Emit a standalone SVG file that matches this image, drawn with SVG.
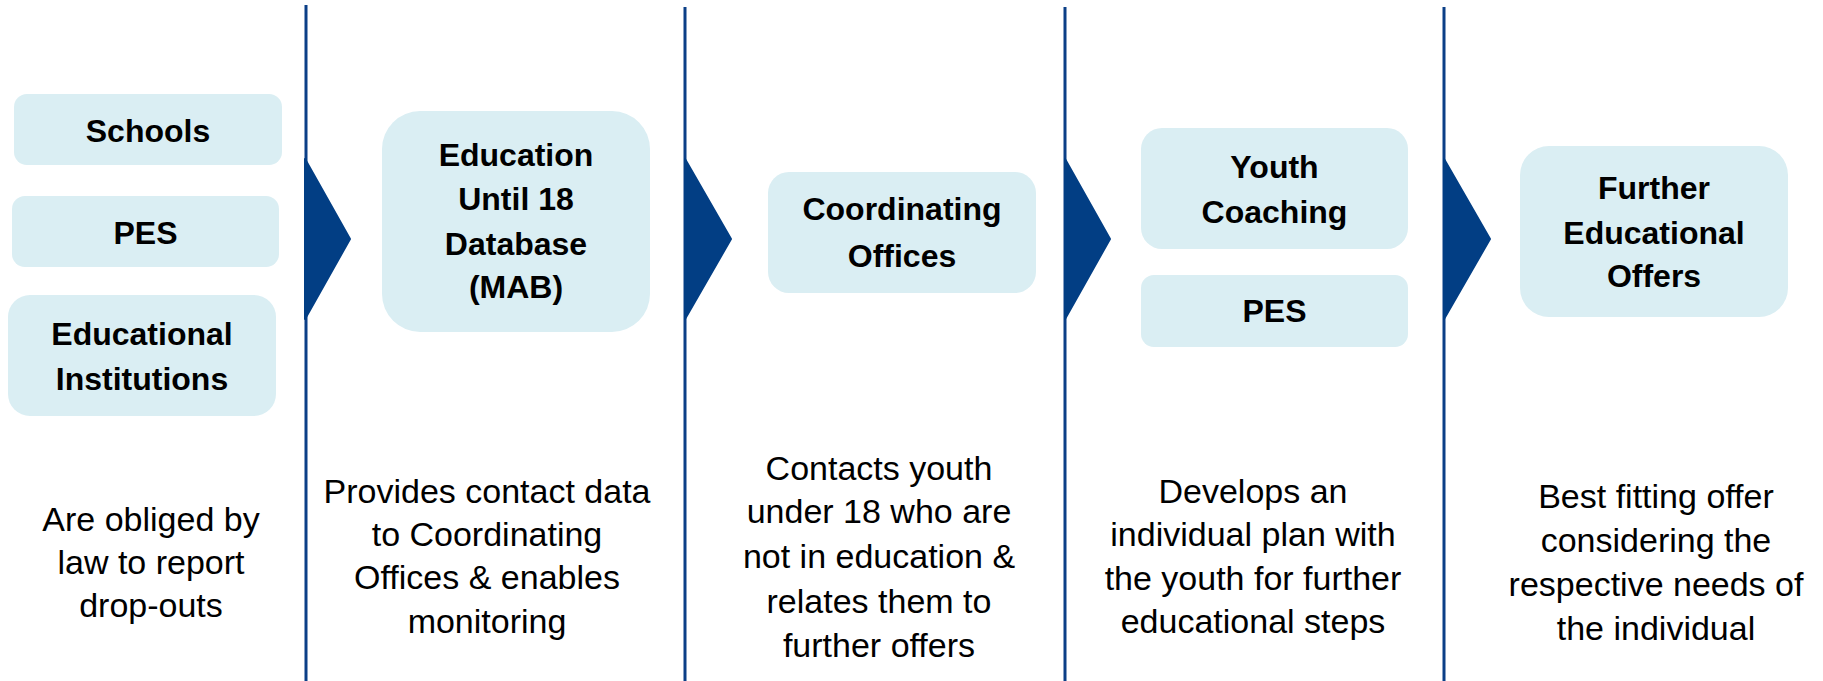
<svg xmlns="http://www.w3.org/2000/svg" width="1823" height="681" viewBox="0 0 1823 681">
<style>
.box{fill:#DAEEF3}
.t{font-family:"Liberation Sans",Arial,sans-serif;font-weight:bold;font-size:32px;fill:#000;text-anchor:middle}
.d{font-family:"Liberation Sans",Arial,sans-serif;font-size:34px;fill:#000;text-anchor:middle}
.sep{stroke:#0B3F87;stroke-width:3;fill:none}
.arr{fill:#023E84;stroke:#023E84;stroke-width:2;stroke-linejoin:round}
</style>
<rect width="1823" height="681" fill="#fff"/>
<g id="connectors">
<line class="sep" x1="306" y1="5" x2="306" y2="681"/>
<line class="sep" x1="685" y1="7" x2="685" y2="681"/>
<line class="sep" x1="1065" y1="7" x2="1065" y2="681"/>
<line class="sep" x1="1444" y1="7" x2="1444" y2="681"/>
<polygon class="arr" points="305,159 350,239 305,319"/>
<polygon class="arr" points="685,159 731,239 685,319"/>
<polygon class="arr" points="1065,159 1110,239 1065,319"/>
<polygon class="arr" points="1444,159 1490,239 1444,319"/>
</g>
<g id="schools"><rect class="box" x="14" y="94" width="268" height="71" rx="13"/><text class="t" x="148" y="142">Schools</text></g>
<g id="pes1"><rect class="box" x="12" y="196" width="267" height="71" rx="13"/><text class="t" x="145.5" y="244">PES</text></g>
<g id="institutions"><rect class="box" x="8" y="295" width="268" height="121" rx="22"/><text class="t" x="142" y="345">Educational</text><text class="t" x="142" y="390">Institutions</text></g>
<g id="mab"><rect class="box" x="382" y="111" width="268" height="221" rx="38"/><text class="t" x="516" y="166">Education</text><text class="t" x="516" y="210">Until 18</text><text class="t" x="516" y="255">Database</text><text class="t" x="516" y="298">(MAB)</text></g>
<g id="coordinating"><rect class="box" x="768" y="172" width="268" height="121" rx="21"/><text class="t" x="902" y="220">Coordinating</text><text class="t" x="902" y="267">Offices</text></g>
<g id="youth"><rect class="box" x="1141" y="128" width="267" height="121" rx="21"/><text class="t" x="1274.5" y="178">Youth</text><text class="t" x="1274.5" y="223">Coaching</text></g>
<g id="pes2"><rect class="box" x="1141" y="275" width="267" height="72" rx="13"/><text class="t" x="1274.5" y="322">PES</text></g>
<g id="further"><rect class="box" x="1520" y="146" width="268" height="171" rx="29"/><text class="t" x="1654" y="199">Further</text><text class="t" x="1654" y="244">Educational</text><text class="t" x="1654" y="287">Offers</text></g>
<g id="desc1"><text class="d" x="151" y="531">Are obliged by</text><text class="d" x="151" y="574">law to report</text><text class="d" x="151" y="617">drop-outs</text></g>
<g id="desc2"><text class="d" x="487" y="503">Provides contact data</text><text class="d" x="487" y="546">to Coordinating</text><text class="d" x="487" y="589">Offices &amp; enables</text><text class="d" x="487" y="633">monitoring</text></g>
<g id="desc3"><text class="d" x="879" y="480">Contacts youth</text><text class="d" x="879" y="523">under 18 who are</text><text class="d" x="879" y="568">not in education &amp;</text><text class="d" x="879" y="613">relates them to</text><text class="d" x="879" y="657">further offers</text></g>
<g id="desc4"><text class="d" x="1253" y="503">Develops an</text><text class="d" x="1253" y="546">individual plan with</text><text class="d" x="1253" y="590">the youth for further</text><text class="d" x="1253" y="633">educational steps</text></g>
<g id="desc5"><text class="d" x="1656" y="508">Best fitting offer</text><text class="d" x="1656" y="552">considering the</text><text class="d" x="1656" y="596">respective needs of</text><text class="d" x="1656" y="640">the individual</text></g>
</svg>
